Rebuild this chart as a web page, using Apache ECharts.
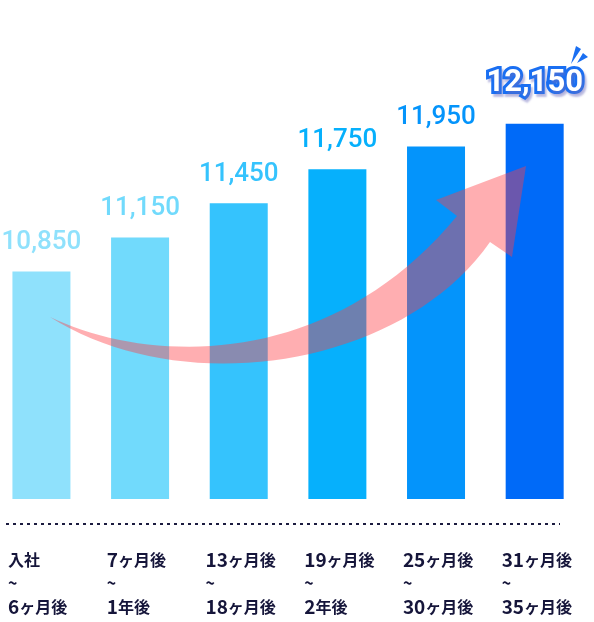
<!DOCTYPE html>
<html>
<head>
<meta charset="utf-8">
<script src="https://cdn.jsdelivr.net/npm/echarts@6/dist/echarts.min.js"></script>
<style>
html,body{margin:0;padding:0;background:#fff;}
#chart{width:594px;height:622px;}
</style>
</head>
<body>
<div id="chart"></div>
<script>
var categoriesStart = ['入社', '7ヶ月後', '13ヶ月後', '19ヶ月後', '25ヶ月後', '31ヶ月後'];
var categoriesEnd = ['6ヶ月後', '1年後', '18ヶ月後', '2年後', '30ヶ月後', '35ヶ月後'];
var salaryValues = [10850, 11150, 11450, 11750, 11950, 12150];
var barColors = ['#8fe1fc', '#71dafc', '#35c3fd', '#06b0fc', '#0494fb', '#006af8'];

var chart = echarts.init(document.getElementById('chart'), null, {renderer: 'canvas'});

function fmtNum(v) {
  return v.toLocaleString('en-US');
}
function richDigits(s) {
  var parts = s.split(/(\d+)/);
  var out = '';
  for (var k = 0; k < parts.length; k++) {
    if (!parts[k]) continue;
    out += /^\d+$/.test(parts[k]) ? '{n|' + parts[k] + '}' : '{a|' + parts[k] + '}';
  }
  return out;
}
function bez(p0, p1, p2, p3, n) {
  var pts = [];
  for (var k = 0; k <= n; k++) {
    var t = k / n, u = 1 - t;
    pts.push([
      u*u*u*p0[0] + 3*u*u*t*p1[0] + 3*u*t*t*p2[0] + t*t*t*p3[0],
      u*u*u*p0[1] + 3*u*u*t*p1[1] + 3*u*t*t*p2[1] + t*t*t*p3[1]
    ]);
  }
  return pts;
}
// decorative arrow outline
var arrowPts = bez([50,317],[150,365],[330,370],[457,216], 40)
  .concat([[436,200],[526,166],[512,257]])
  .concat(bez([490,242],[400,370],[180,400],[50,317], 40));

var barData = salaryValues.map(function (v, i) {
  var last = i === salaryValues.length - 1;
  var item = {
    value: [i, v],
    itemStyle: {color: barColors[i]},
    label: {color: barColors[i]}
  };
  if (last) {
    item.label = {
      color: '#ffffff',
      fontSize: 31,
      fontWeight: 'bold',
      textBorderColor: '#1a6ff2',
      textBorderWidth: 6,
      textShadowColor: 'rgba(110,110,190,0.45)',
      textShadowBlur: 2,
      textShadowOffsetX: 2,
      textShadowOffsetY: 3,
      distance: 25
    };
  }
  return item;
});

var option = {
  animation: false,
  backgroundColor: '#ffffff',
  grid: [
    {left: 0, right: 10, top: 27, bottom: 123},
    {left: 8, right: 43, top: 540, height: 2}
  ],
  xAxis: [
    {
      type: 'value',
      gridIndex: 0,
      min: -0.42,
      max: 5.5,
      show: false
    },
    {
      type: 'value',
      gridIndex: 1,
      min: 0,
      max: 5.5,
      interval: 1,
      splitLine: {show: false},
      axisLine: {show: false},
      axisTick: {show: false},
      axisLabel: {
        show: true,
        showMinLabel: true,
        showMaxLabel: true,
        align: 'left',
        verticalAlign: 'top',
        margin: 5,
        color: '#15153a',
        fontFamily: 'Noto Sans CJK JP',
        fontWeight: 'bold',
        fontSize: 16,
        formatter: function (v) {
          var i = Math.round(v);
          if (Math.abs(v - i) > 1e-6 || i < 0 || i >= categoriesStart.length) return '';
          return richDigits(categoriesStart[i]) + '\n{t|~}\n' + richDigits(categoriesEnd[i]);
        },
        rich: {
          a: {fontFamily: 'Noto Sans CJK JP', fontWeight: 'bold', fontSize: 16, color: '#15153a', lineHeight: 25},
          n: {fontFamily: 'Noto Sans CJK JP', fontWeight: 'bold', fontSize: 19, color: '#15153a', lineHeight: 25},
          t: {fontFamily: 'Noto Sans CJK JP', fontWeight: 'bold', fontSize: 16, color: '#15153a', lineHeight: 22}
        }
      }
    }
  ],
  yAxis: [
    {type: 'value', gridIndex: 0, min: 8850, max: 13000, show: false},
    {type: 'value', gridIndex: 1, min: 0, max: 1, show: false}
  ],
  series: [
    {
      type: 'bar',
      xAxisIndex: 0,
      yAxisIndex: 0,
      barWidth: 58,
      data: barData,
      label: {
        show: true,
        position: 'top',
        distance: 16,
        fontFamily: 'Roboto',
        fontWeight: 500,
        fontSize: 26,
        formatter: function (p) { return fmtNum(p.value[1]); }
      }
    }
  ],
  graphic: [
    {
      type: 'polygon',
      z: 10,
      shape: {points: arrowPts},
      style: {fill: 'rgba(255,62,70,0.42)'}
    },
    {
      type: 'line',
      z: 10,
      shape: {x1: 6, y1: 524, x2: 560, y2: 524},
      style: {stroke: '#1b1b3f', lineWidth: 2, lineDash: [3, 4]}
    },
    {
      type: 'polygon',
      z: 10,
      shape: {points: [[571, 64], [576, 46], [581, 49]]},
      style: {fill: '#1a6ff2'}
    },
    {
      type: 'polygon',
      z: 10,
      shape: {points: [[577, 63], [583, 53], [588, 57]]},
      style: {fill: '#1a6ff2'}
    }
  ]
};
chart.setOption(option);
</script>
</body>
</html>
